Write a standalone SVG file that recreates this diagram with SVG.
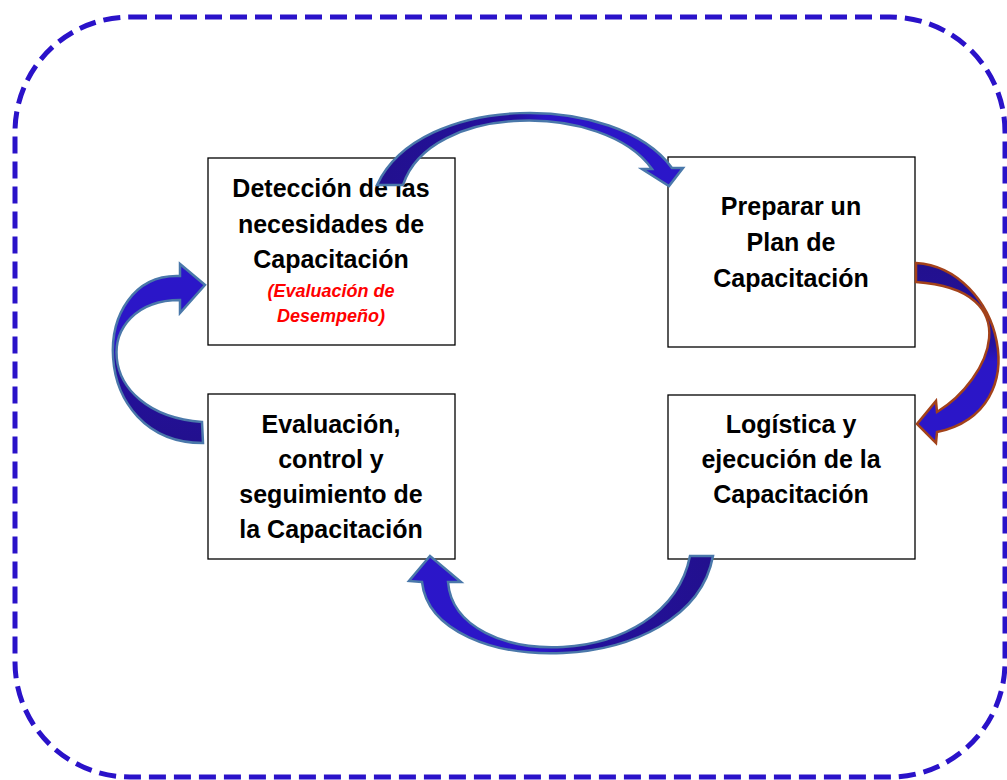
<svg xmlns="http://www.w3.org/2000/svg" width="1007" height="780" viewBox="0 0 1007 780">
<style>
.frame{fill:none;stroke:#2a12c9;stroke-width:5;stroke-dasharray:17 8}
.box{fill:#ffffff;stroke:#000000;stroke-width:1.3}
.t{font-family:"Liberation Sans",Arial,sans-serif;font-weight:bold;font-size:25px;fill:#000000;text-anchor:middle}
.r{font-family:"Liberation Sans",Arial,sans-serif;font-weight:bold;font-style:italic;font-size:18px;fill:#ff0000;text-anchor:middle}
.ab{stroke:#4a78aa;stroke-width:2.5;stroke-linejoin:miter}
.ar{stroke:#a3421a;stroke-width:2.5;stroke-linejoin:miter}
</style>
<defs>
<linearGradient id="gTop" x1="377" y1="0" x2="683" y2="0" gradientUnits="userSpaceOnUse">
<stop offset="0" stop-color="#22108e"/><stop offset="0.45" stop-color="#24119e"/><stop offset="0.55" stop-color="#2b16c6"/><stop offset="1" stop-color="#2b16c9"/>
</linearGradient>
<linearGradient id="gRight" x1="0" y1="263" x2="0" y2="443" gradientUnits="userSpaceOnUse">
<stop offset="0" stop-color="#22108e"/><stop offset="0.45" stop-color="#24119e"/><stop offset="0.55" stop-color="#2b16c6"/><stop offset="1" stop-color="#2b16c9"/>
</linearGradient>
<linearGradient id="gBottom" x1="713" y1="0" x2="409" y2="0" gradientUnits="userSpaceOnUse">
<stop offset="0" stop-color="#22108e"/><stop offset="0.45" stop-color="#24119e"/><stop offset="0.55" stop-color="#2b16c6"/><stop offset="1" stop-color="#2b16c9"/>
</linearGradient>
<linearGradient id="gLeft" x1="0" y1="443" x2="0" y2="264" gradientUnits="userSpaceOnUse">
<stop offset="0" stop-color="#22108e"/><stop offset="0.45" stop-color="#24119e"/><stop offset="0.55" stop-color="#2b16c6"/><stop offset="1" stop-color="#2b16c9"/>
</linearGradient>
</defs>
<rect width="1007" height="780" fill="#ffffff"/>
<rect class="frame" x="15" y="17" width="990" height="760" rx="115" ry="115"/>
<g id="node-deteccion">
<rect class="box" x="208" y="158" width="247" height="187"/>
<text class="t" x="331" y="197">Detección de las</text>
<text class="t" x="331" y="233">necesidades de</text>
<text class="t" x="331" y="268">Capacitación</text>
<text class="r" x="331" y="297">(Evaluación de</text>
<text class="r" x="331" y="322">Desempeño)</text>
</g>
<g id="node-preparar">
<rect class="box" x="668" y="157" width="247" height="190"/>
<text class="t" x="791" y="215">Preparar un</text>
<text class="t" x="791" y="251">Plan de</text>
<text class="t" x="791" y="287">Capacitación</text>
</g>
<g id="node-logistica">
<rect class="box" x="668" y="395" width="247" height="164"/>
<text class="t" x="791" y="433">Logística y</text>
<text class="t" x="791" y="468">ejecución de la</text>
<text class="t" x="791" y="503">Capacitación</text>
</g>
<g id="node-evaluacion">
<rect class="box" x="208" y="394" width="247" height="165"/>
<text class="t" x="331" y="433">Evaluación,</text>
<text class="t" x="331" y="468">control y</text>
<text class="t" x="331" y="503">seguimiento de</text>
<text class="t" x="331" y="538">la Capacitación</text>
</g>
<g id="connectors">
<path class="ab" fill="url(#gTop)" d="M377,185 C420,92 617,92 672,168 L683,168 L669,186 L642,169 L652,169 C605,102 430,102 403,185 Z"/>
<path class="ar" fill="url(#gRight)" d="M916,263 C1000,268 1040,410 937,432 L936,443 L917,424 L936,401 L937,412 C990,380 1030,290 916,282 Z"/>
<path class="ab" fill="url(#gBottom)" d="M713,556 C690,681 433,681 422,582 L409,581 L430,556 L461,582 L448,582 C455,673 667,673 690,556 Z"/>
<path class="ab" fill="url(#gLeft)" d="M203,443 C87,443 87,272 180,276 L180,264 L205,285 L180,313 L180,300 C92,300 92,414 202,422 Z"/>
</g>
</svg>
